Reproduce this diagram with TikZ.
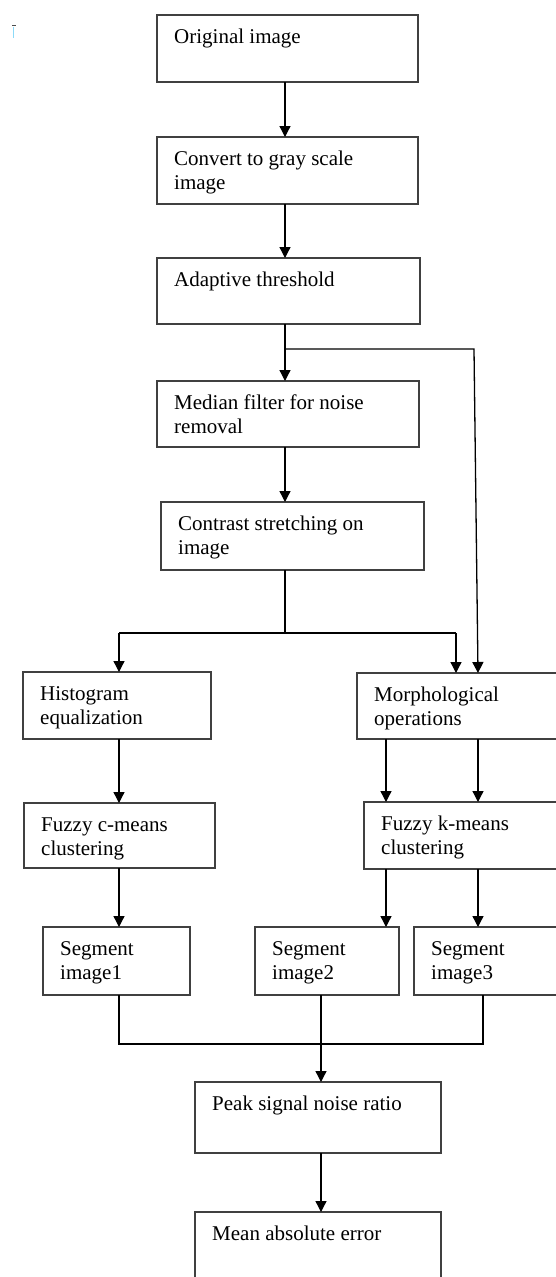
\documentclass[tikz,border=0pt]{standalone}
\usepackage{fontspec}
\setmainfont{Liberation Serif}
\usetikzlibrary{arrows.meta}
\newcommand\flowbox[6]{%
  \node[box, minimum width={#4-#2}, minimum height={#5-#3}] (#1) at (#2,#3) {};
  \node[lbl] (#1t) at ([xshift=17pt,yshift=-28pt]#1.north west) {\begin{tabular}[t]{@{}l@{}}#6\end{tabular}};}
\begin{document}
\begin{tikzpicture}[x=1pt,y=-1pt,
  box/.style={draw=black!75, line width=1.2pt, anchor=north west, inner sep=0pt, outer sep=0pt},
  lbl/.style={anchor=base west, inner sep=0pt, font=\fontsize{21}{24}\selectfont},
  conn/.style={line width=1.3pt, black},
  arr/.style={conn, -{Triangle[length=11pt,width=11pt]}}]
\useasboundingbox (0,0) rectangle (556,1277);
\clip (0,0) rectangle (556,1277);
\fill[white] (0,0) rectangle (556,1277);
% stray mark
\draw[black!70, line width=1pt] (12,25) -- (16,25);
\draw[cyan!45, line width=1pt] (13,27) -- (13,38);
% boxes
\flowbox{b1}{157}{15}{418}{82}{Original image}
\flowbox{b2}{157}{137}{418}{204}{Convert to gray scale\\image}
\flowbox{b3}{157}{258}{420}{324}{Adaptive threshold}
\flowbox{b4}{157}{381}{419}{447}{Median filter for noise\\removal}
\flowbox{b5}{161}{502}{424}{570}{Contrast stretching on\\image}
\flowbox{b6}{23}{672}{211}{739}{Histogram\\equalization}
\flowbox{b7}{357}{673}{562}{739}{Morphological\\operations}
\flowbox{b8}{24}{803}{215}{868}{Fuzzy c-means\\clustering}
\flowbox{b9}{364}{802}{562}{869}{Fuzzy k-means\\clustering}
\flowbox{b10}{43}{927}{190}{995}{Segment\\image1}
\flowbox{b11}{255}{927}{399}{995}{Segment\\image2}
\flowbox{b12}{414}{927}{562}{995}{Segment\\image3}
\flowbox{b13}{195}{1082}{441}{1153}{Peak signal noise ratio}
\flowbox{b14}{195}{1212}{441}{1290}{Mean absolute error}
% column coordinates
\coordinate (xm) at (285,0);
\coordinate (xl) at (119,0);
\coordinate (xa) at (386,0);
\coordinate (xb) at (478,0);
\coordinate (xc) at (456,0);
\coordinate (xs2) at (321,0);
\coordinate (xs3) at (483,0);
\coordinate (j1) at (285,349);
\coordinate (r1) at (474,349);
\coordinate (j2) at (285,633);
\coordinate (j2l) at (119,633);
\coordinate (j2r) at (456,633);
\coordinate (j3) at (321,1044);
\coordinate (j3l) at (119,1044);
\coordinate (j3r) at (483,1044);
% connectors
\draw[arr] (b1.south -| xm) -- (b2.north -| xm);
\draw[arr] (b2.south -| xm) -- (b3.north -| xm);
\draw[arr] (b3.south -| xm) -- (b4.north -| xm);
\draw[arr] (j1) -- (r1) -- (b7.north -| xb);
\draw[arr] (b4.south -| xm) -- (b5.north -| xm);
\draw[conn] (b5.south -| xm) -- (j2);
\draw[conn] (j2l) -- (j2r);
\draw[arr] (j2l) -- (b6.north -| xl);
\draw[arr] (j2r) -- (b7.north -| xc);
\draw[arr] (b6.south -| xl) -- (b8.north -| xl);
\draw[arr] (b7.south -| xa) -- (b9.north -| xa);
\draw[arr] (b7.south -| xb) -- (b9.north -| xb);
\draw[arr] (b8.south -| xl) -- (b10.north -| xl);
\draw[arr] (b9.south -| xa) -- (b11.north -| xa);
\draw[arr] (b9.south -| xb) -- (b12.north -| xb);
\draw[conn] (b10.south -| xl) -- (j3l) -- (j3r) -- (b12.south -| xs3);
\draw[arr] (b11.south -| xs2) -- (b13.north -| xs2);
\draw[arr] (b13.south -| xs2) -- (b14.north -| xs2);
\end{tikzpicture}
\end{document}
